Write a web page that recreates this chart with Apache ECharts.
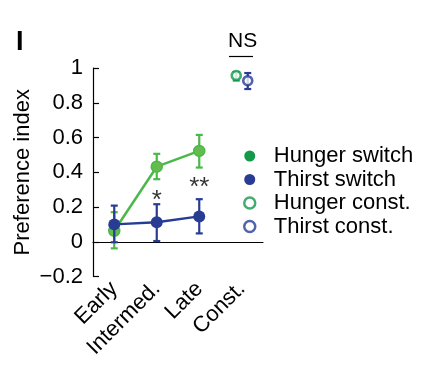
<!DOCTYPE html>
<html><head><meta charset="utf-8">
<script src="https://cdn.jsdelivr.net/npm/echarts@6/dist/echarts.min.js"></script>
<style>html,body{margin:0;padding:0;background:#fff}#c{width:437px;height:365px}</style>
</head><body><div id="c"></div>
<script>
const categories = ['Early', 'Intermed.', 'Late', 'Const.'];
const hungerSwitch = [0.063, 0.432, 0.523, null];
const hungerSwitchLow = [-0.038, 0.36, 0.427, null];
const hungerSwitchHigh = [0.17, 0.506, 0.615, null];
const thirstSwitch = [0.10, 0.112, 0.146, null];
const thirstSwitchLow = [-0.003, 0.004, 0.048, null];
const thirstSwitchHigh = [0.208, 0.216, 0.245, null];
const hungerConst = [0.957];
const hungerConstLow = [0.928];
const hungerConstHigh = [0.977];
const thirstConst = [0.927];
const thirstConstLow = [0.879];
const thirstConstHigh = [0.971];
const yTicks = [-0.2, 0, 0.2, 0.4, 0.6, 0.8, 1];
const sigMarks = [['Intermed.', 0.237, '*'], ['Late', 0.312, '**']];

const GREEN = '#4cb84a', GREEN_PT = '#62bd4c', GREEN_DARK = '#13994a', BLUE = '#283c94';
const FONT = 'Liberation Sans, Arial, sans-serif';

function errData(low, high, cat) {
  const out = [];
  low.forEach((l, i) => { if (l != null) out.push([cat ? cat[i] : categories[i], l, high[i]]); });
  return out;
}
function errSeries(data, color, dx, z) {
  return {
    type: 'custom', z: z, silent: true,
    data: data,
    encode: { x: 0, y: [1, 2] },
    renderItem: function (params, api) {
      const xi = api.value(0);
      const lo = api.coord([xi, api.value(1)]);
      const hi = api.coord([xi, api.value(2)]);
      const x = lo[0] + dx, w = 3.5;
      const st = { stroke: color, lineWidth: 2.2 };
      return { type: 'group', children: [
        { type: 'line', shape: { x1: x, y1: lo[1], x2: x, y2: hi[1] }, style: st },
        { type: 'line', shape: { x1: x - w, y1: lo[1], x2: x + w, y2: lo[1] }, style: st },
        { type: 'line', shape: { x1: x - w, y1: hi[1], x2: x + w, y2: hi[1] }, style: st }
      ]};
    }
  };
}

const chart = echarts.init(document.getElementById('c'));
chart.setOption({
  animation: false,
  textStyle: { fontFamily: FONT },
  grid: { left: 93, width: 170, top: 68, bottom: 88.5, containLabel: false },
  xAxis: {
    type: 'category', data: categories,
    axisLine: { lineStyle: { color: '#000', width: 1.2 } },
    axisTick: { inside: true, alignWithLabel: true, length: 5, lineStyle: { color: '#000', width: 1.2 } },
    axisLabel: { rotate: 45, color: '#000', fontSize: 22, margin: 9, fontFamily: FONT }
  },
  yAxis: {
    type: 'value', min: yTicks[0], max: yTicks[yTicks.length - 1], interval: 0.2,
    name: 'Preference index', nameLocation: 'middle', nameGap: 59,
    nameTextStyle: { fontSize: 22, color: '#000', fontFamily: FONT },
    axisLine: { show: true, lineStyle: { color: '#000', width: 1.2 } },
    axisTick: { show: true, inside: true, length: 6, lineStyle: { color: '#000', width: 1.2 } },
    splitLine: { show: false },
    axisLabel: { color: '#000', fontSize: 22, margin: 10, fontFamily: FONT,
      formatter: v => { const r = Math.round(v * 10) / 10; return (r < 0 ? '\u2212' : '') + String(Math.abs(r)); } }
  },
  legend: {
    orient: 'vertical', left: 238, top: 140, itemGap: 1.5, itemWidth: 38, itemHeight: 11,
    textStyle: { fontSize: 22, lineHeight: 22, color: '#000', fontFamily: FONT },
    data: [
      { name: 'Hunger switch', icon: 'circle', itemStyle: { color: GREEN_DARK, borderWidth: 0 } },
      { name: 'Thirst switch', icon: 'circle', itemStyle: { color: BLUE, borderWidth: 0 } },
      { name: 'Hunger const.', icon: 'circle', itemStyle: { color: '#fff', borderColor: GREEN_DARK, borderWidth: 2.5 } },
      { name: 'Thirst const.', icon: 'circle', itemStyle: { color: '#fff', borderColor: BLUE, borderWidth: 2.5 } }
    ]
  },
  graphic: [
    { type: 'text', left: 16, top: 29, style: { text: 'I', fontSize: 27, fontWeight: 'bold', fill: '#000', fontFamily: FONT } },
    { type: 'text', left: 228, top: 31, style: { text: 'NS', fontSize: 21, fill: '#000', fontFamily: FONT } },
    { type: 'line', shape: { x1: 229, y1: 56.5, x2: 253, y2: 56.5 }, style: { stroke: '#000', lineWidth: 1.2 } }
  ],
  series: [
    {
      type: 'line', name: 'zero', silent: true, data: [], z: 1,
      markLine: { silent: true, symbol: 'none', label: { show: false },
        lineStyle: { color: '#000', width: 1.1, type: 'solid' }, data: [{ yAxis: 0 }] }
    },
    errSeries(errData(hungerSwitchLow, hungerSwitchHigh), GREEN, 0, 3),
    {
      type: 'line', name: 'Hunger switch', data: hungerSwitch, z: 4,
      symbol: 'circle', symbolSize: 11, connectNulls: false,
      lineStyle: { color: GREEN, width: 2.5 },
      itemStyle: { color: GREEN_PT, borderColor: GREEN, borderWidth: 1.5 }
    },
    errSeries(errData(thirstSwitchLow, thirstSwitchHigh), BLUE, 0, 5),
    {
      type: 'line', name: 'Thirst switch', data: thirstSwitch, z: 6,
      symbol: 'circle', symbolSize: 12,
      lineStyle: { color: BLUE, width: 2.5 },
      itemStyle: { color: BLUE, borderWidth: 0 }
    },
    errSeries(errData(hungerConstLow, hungerConstHigh, ['Const.']), GREEN_DARK, -5.5, 3),
    {
      type: 'scatter', name: 'Hunger const.', z: 7,
      data: hungerConst.map(v => ['Const.', v]),
      symbol: 'circle', symbolSize: 9, symbolOffset: [-5.5, 0],
      itemStyle: { color: '#fff', borderColor: GREEN_DARK, borderWidth: 2.6 }
    },
    errSeries(errData(thirstConstLow, thirstConstHigh, ['Const.']), BLUE, 6, 3),
    {
      type: 'scatter', name: 'Thirst const.', z: 7,
      data: thirstConst.map(v => ['Const.', v]),
      symbol: 'circle', symbolSize: 9, symbolOffset: [6, 0],
      itemStyle: { color: '#fff', borderColor: BLUE, borderWidth: 2.6 }
    },
    {
      type: 'scatter', name: 'sig', silent: true, z: 8, symbolSize: 0,
      data: sigMarks.map(m => ({ value: [m[0], m[1]], label: { formatter: m[2] } })),
      label: { show: true, position: 'inside', fontSize: 26, color: '#000', fontFamily: FONT }
    }
  ]
});
</script></body></html>
